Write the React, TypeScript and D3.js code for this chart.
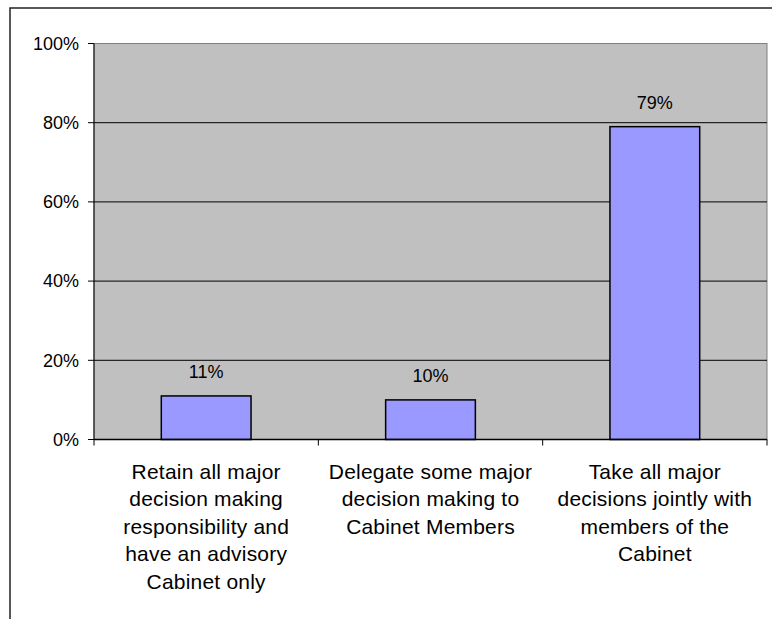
import React from 'react';
import * as d3 from 'd3';

const categories = ['retain', 'delegate', 'jointly'];
const categoryLines = [
  ['Retain all major', 'decision making', 'responsibility and', 'have an advisory', 'Cabinet only'],
  ['Delegate some major', 'decision making to', 'Cabinet Members'],
  ['Take all major', 'decisions jointly with', 'members of the', 'Cabinet'],
];
const values = [0.11, 0.10, 0.79];
const yTicks = [0, 0.2, 0.4, 0.6, 0.8, 1.0];

const App: React.FC = () => {
  const width = 772;
  const height = 619;
  const plot = { left: 94, top: 43.5, right: 767, bottom: 439.5 };
  const font = 'Arial, "Liberation Sans", sans-serif';

  const x = d3.scaleBand<string>()
    .domain(categories)
    .range([plot.left, plot.right])
    .paddingInner(0.6)
    .paddingOuter(0.3);
  const band = d3.scaleBand<string>().domain(categories).range([plot.left, plot.right]);

  const y = d3.scaleLinear().domain([0, 1]).range([plot.bottom, plot.top]);
  const fmt = d3.format('.0%');

  const boundaries = [plot.left, ...categories.map(c => (band(c) || 0) + band.bandwidth())];

  return (
    <div style={{ position: 'absolute', left: 0, top: 0 }}>
      <svg width={width} height={height} style={{ display: 'block' }}>
        <rect x={0} y={0} width={width} height={height} fill="#fff" />
        <rect x={10} y={8} width={900} height={800} fill="none" stroke="#222" strokeWidth={1.5} />

        <rect x={plot.left} y={plot.top} width={plot.right - plot.left} height={plot.bottom - plot.top}
          fill="#c0c0c0" stroke="#808080" strokeWidth={1} />

        {yTicks.map(t => (
          <g key={t}>
            {t > 0 && t < 1 && (
              <line x1={plot.left} x2={plot.right} y1={y(t)} y2={y(t)} stroke="#000" strokeWidth={1} />
            )}
            <line x1={plot.left - 6} x2={plot.left} y1={y(t)} y2={y(t)} stroke="#000" strokeWidth={1} />
            <text x={79} y={y(t)} dy="0.35em" textAnchor="end" fontFamily={font} fontSize={18} fill="#000">
              {fmt(t)}
            </text>
          </g>
        ))}

        {categories.map((c, i) => (
          <g key={c}>
            <rect x={x(c)} y={y(values[i])} width={x.bandwidth()} height={plot.bottom - y(values[i])}
              fill="#9999ff" stroke="#000" strokeWidth={1.5} />
            <text x={(x(c) || 0) + x.bandwidth() / 2} y={y(values[i]) - 24} dy="0.35em" textAnchor="middle"
              fontFamily={font} fontSize={18} fill="#000">
              {fmt(values[i])}
            </text>
            {categoryLines[i].map((line, j) => (
              <text key={j} x={(band(c) || 0) + band.bandwidth() / 2} y={478.5 + j * 27.5}
                textAnchor="middle" fontFamily={font} fontSize={21} letterSpacing={0.2} fill="#000">
                {line}
              </text>
            ))}
          </g>
        ))}

        <line x1={plot.left} x2={plot.left} y1={plot.top} y2={plot.bottom} stroke="#000" strokeWidth={1} />
        <line x1={plot.left} x2={plot.right} y1={plot.bottom} y2={plot.bottom} stroke="#000" strokeWidth={1.5} />
        {boundaries.map((b, i) => (
          <line key={i} x1={b} x2={b} y1={plot.bottom} y2={plot.bottom + 6} stroke="#000" strokeWidth={1} />
        ))}
      </svg>
    </div>
  );
};

export default App;
